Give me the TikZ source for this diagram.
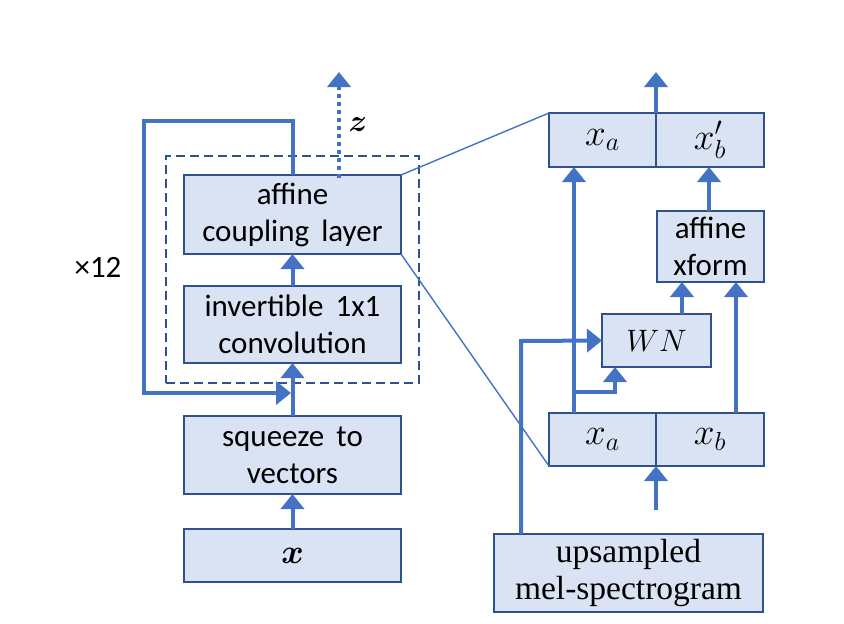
\RequirePackage{fix-cm}
\documentclass[tikz,border=0pt]{standalone}
\usepackage{amsmath}
\usepackage{fontspec}
\setmainfont{Carlito}
\newfontfamily\melfont{Liberation Serif}
\usetikzlibrary{arrows.meta,calc}
\definecolor{arrblue}{HTML}{4472C4}
\definecolor{boxfill}{HTML}{DAE3F3}
\definecolor{boxline}{HTML}{2F528F}
\newcommand{\mymath}[1]{\scalebox{1.2}{$#1$}}
\tikzset{
  blk/.style={draw=boxline, line width=1.3pt, fill=boxfill, inner sep=0pt, outer sep=0pt,
    align=center, font=\fontsize{31}{37}\selectfont, text=black},
  arr/.style={draw=arrblue, line width=4pt, -{Triangle[width=23pt,length=15pt]}},
  bentarr/.style={draw=arrblue, line width=4pt, line join=miter, -{Triangle[width=23pt,length=15pt]}},
  thinline/.style={draw=arrblue, line width=1.4pt},
  dashbox/.style={draw=boxline, line width=1.3pt, dash pattern=on 9pt off 5pt, inner sep=0pt}
}
\begin{document}
\begin{tikzpicture}[x=1pt,y=-1pt]
\useasboundingbox (0,0) rectangle (844,624);
% left column
\node[dashbox, minimum width=253pt, minimum height=227pt] (dbox) at (292.5,269.5) {};
\node[blk, minimum width=217pt, minimum height=79pt] (acl) at (292.5,214.5) {affine\\coupling\, layer};
\node[blk, minimum width=217pt, minimum height=77pt] (inv) at (292.5,324.5) {invertible\, 1x1\\convolution};
\node[blk, minimum width=217pt, minimum height=78pt] (sq) at (292.5,455) {squeeze\, to\\vectors};
\node[blk, minimum width=217pt, minimum height=53pt] (xin) at (292.5,555.5) {\scalebox{1.1}{$\boldsymbol{x}$}};
\node[font=\fontsize{31}{37}\selectfont] (times) at (98,267) {×12};
\node[font=\fontsize{31}{37}\selectfont] (zlab) at (358,125) {$\boldsymbol{z}$};
\coordinate (ztop) at (339,72);
\coordinate (zbot) at (339,178);
\coordinate (lp1) at (292.5,121);
\coordinate (lp2) at (144,121);
\coordinate (lp3) at (144,393);
\coordinate (lp4) at (291,393);
% right column
\node[blk, minimum width=107pt, minimum height=54pt] (topa) at (602.5,140) {\mymath{x_a}};
\node[blk, minimum width=108pt, minimum height=54pt] (topb) at (710,140) {\mymath{x_b'}};
\node[blk, minimum width=107pt, minimum height=71pt] (aff) at (710.5,246.5) {affine\\xform};
\node[blk, minimum width=109pt, minimum height=53pt] (wn) at (656.5,340.5) {$WN$};
\node[blk, minimum width=107pt, minimum height=53pt] (bota) at (602.5,439.5) {\mymath{x_a}};
\node[blk, minimum width=108pt, minimum height=53pt] (botb) at (710,439.5) {\mymath{x_b}};
\node[blk, minimum width=269pt, minimum height=78pt, font=\melfont\fontsize{33.5}{37}\selectfont] (mel) at (628.5,573) {upsampled\\mel-spectrogram};
\coordinate (outtop) at (656,72);
\coordinate (intail) at (656,510);
\coordinate (xaline) at (574,392);
\coordinate (brcorner) at (615,392);
\coordinate (xbline) at (736,300);
\coordinate (wnline) at (682,300);
\coordinate (affline) at (709,200);
\coordinate (melcorner) at (521,341);
% thin zoom lines
\draw[thinline] (acl.north east) -- (topa.north west);
\draw[thinline] (acl.south east) -- (bota.south west);
% left arrows
\draw[arr] (xin.north) -- (sq.south);
\draw[arr] (sq.north) -- (inv.south);
\draw[arr] (inv.north) -- (acl.south);
\draw[bentarr] (acl.north) -- (lp1) -- (lp2) -- (lp3) -- (lp4);
\draw[draw=arrblue, line width=4pt, dash pattern=on 4pt off 4pt] (zbot) -- ($(ztop)+(0,14)$);
\draw[arr] ($(ztop)+(0,15)$) -- (ztop);
% right arrows
\draw[arr] (topa.north east) -- (outtop);
\draw[arr] (intail) -- (bota.south east);
\draw[arr] (bota.north -| xaline) -- (topa.south -| xaline);
\draw[bentarr] (xaline) -- (brcorner) -- (wn.south -| brcorner);
\draw[arr] (botb.north -| xbline) -- (aff.south -| xbline);
\draw[arr] (wn.north -| wnline) -- (aff.south -| wnline);
\draw[arr] (aff.north -| affline) -- (topb.south -| affline);
\draw[bentarr] (mel.north -| melcorner) -- (melcorner) -- (wn.west);
\end{tikzpicture}
\end{document}
